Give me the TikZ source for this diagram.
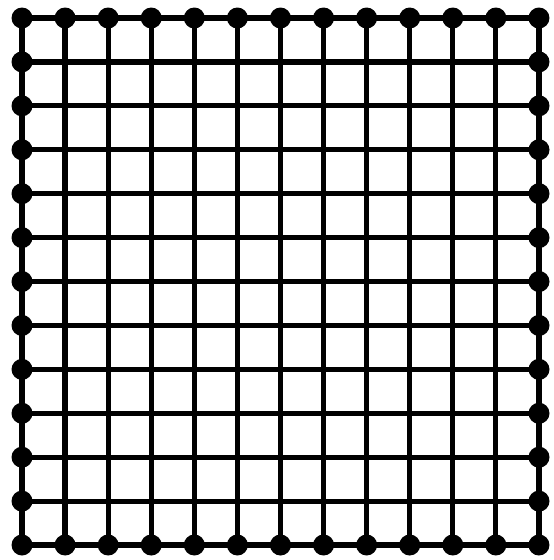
\documentclass[tikz,border=0pt]{standalone}
\usetikzlibrary{positioning}
\newcommand{\gridX}{43.08}
\newcommand{\gridY}{43.92}

\begin{document}
\begin{tikzpicture}[x=1pt, y=-1pt,
  dot/.style={circle, fill=black, inner sep=0pt, minimum size=21pt},
  rod/.style={line width=5.2pt, line cap=round}]
\useasboundingbox (0,0) rectangle (554,560);
% border points of the lattice
\foreach \i in {0,...,12} {
  \coordinate (t\i) at ({22+\gridX*\i},18);
  \coordinate (b\i) at ({22+\gridX*\i},545);
  \coordinate (l\i) at (22,{18+\gridY*\i});
  \coordinate (r\i) at (539,{18+\gridY*\i});
}
\foreach \i in {0,...,12} \draw[rod] (t\i) -- (b\i);
\foreach \i in {0,...,12} \draw[rod] (l\i) -- (r\i);
% dots on the rim
\foreach \i in {0,...,12} {
  \node[dot] (dt\i) at (t\i) {};
  \node[dot] (db\i) at (b\i) {};
}
\foreach \i in {1,...,11} {
  \node[dot] (dl\i) at (l\i) {};
  \node[dot] (dr\i) at (r\i) {};
}
\end{tikzpicture}
\end{document}
